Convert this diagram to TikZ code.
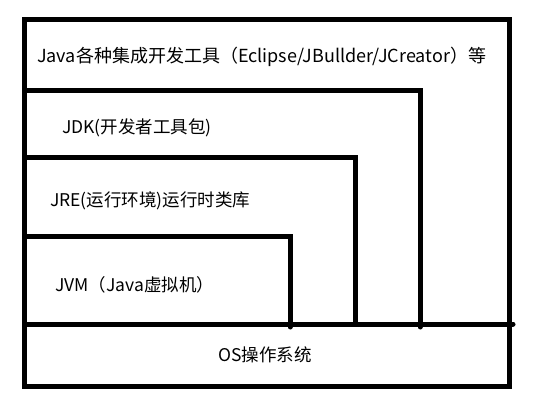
\documentclass[tikz,border=0pt]{standalone}
\usepackage{fontspec}
\setmainfont{Noto Sans CJK SC}
\usepackage{tikz}
\usetikzlibrary{calc,positioning}

\begin{document}
\begin{tikzpicture}[x=1pt,y=-1pt,
  wall/.style={line width=5pt,line cap=round},
  layer/.style={anchor=west,inner sep=0pt,font=\fontsize{17.5}{20}\selectfont}]
  \useasboundingbox (0,0) rectangle (535,403);
  % outer frame and OS line
  \draw[wall] (24,20) rectangle (509,386);
  \draw[wall] (26,324) -- (513,324);
  % nested layers
  \draw[wall] (26,91) -- (420,91) -- (420,327);
  \draw[wall] (26,158) -- (355,158) -- (355,324);
  \draw[wall] (26,237) -- (290,237) -- (290,327);
  \node[layer,font=\fontsize{18}{20}\selectfont] (ide) at (37,57) {Java各种集成开发工具（Eclipse/JBullder/JCreator）等};
  \node[layer] (jdk) at (62,128) {JDK(开发者工具包)};
  \node[layer] (jre) at (50,201) {JRE(运行环境)运行时类库};
  \node[layer] (jvm) at (55,285) {JVM（Java虚拟机）};
  \node[layer,anchor=center] (os) at (265,355) {OS操作系统};
\end{tikzpicture}
\end{document}
